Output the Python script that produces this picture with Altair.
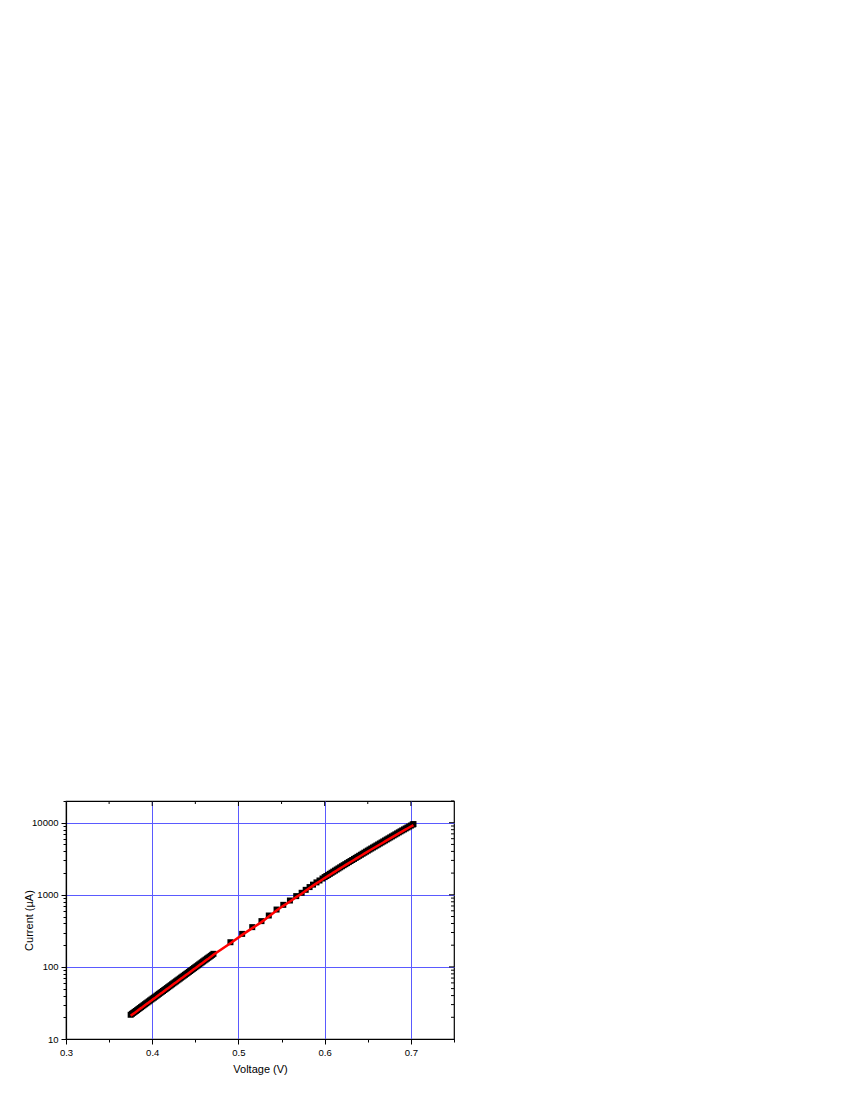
import altair as alt
import pandas as pd

# ---- data ----
# low-current segment (dense)
v_low = [0.3750, 0.3765, 0.3780, 0.3795, 0.3810, 0.3825, 0.3840, 0.3855, 0.3870, 0.3885,
         0.3900, 0.3915, 0.3930, 0.3945, 0.3960, 0.3975, 0.3990, 0.4005, 0.4020, 0.4035,
         0.4050, 0.4065, 0.4080, 0.4095, 0.4110, 0.4125, 0.4140, 0.4155, 0.4170, 0.4185,
         0.4200, 0.4215, 0.4230, 0.4245, 0.4260, 0.4275, 0.4290, 0.4305, 0.4320, 0.4335,
         0.4350, 0.4365, 0.4380, 0.4395, 0.4410, 0.4425, 0.4440, 0.4455, 0.4470, 0.4485,
         0.4500, 0.4515, 0.4530, 0.4545, 0.4560, 0.4575, 0.4590, 0.4605, 0.4620, 0.4635,
         0.4650, 0.4665, 0.4680, 0.4695, 0.4710]
i_low = [21.0, 21.65, 22.3, 23.0, 23.7, 24.4, 25.2, 26.0, 26.8, 27.6,
         28.5, 29.4, 30.3, 31.2, 32.2, 33.2, 34.2, 35.3, 36.3, 37.4,
         38.6, 39.8, 41.0, 42.3, 43.6, 44.9, 46.3, 47.7, 49.2, 50.7,
         52.3, 53.9, 55.6, 57.3, 59.1, 60.9, 62.8, 64.7, 66.7, 68.8,
         70.9, 73.1, 75.3, 77.6, 80.0, 82.5, 85.0, 87.6, 90.4, 93.2,
         96.0, 99.0, 102.0, 105.2, 108.5, 111.9, 115.3, 118.9, 122.5, 126.3,
         130.0, 134.0, 138.0, 142.3, 147.0]
# middle segment (sparse points)
v_mid = [0.4907, 0.5043, 0.5160, 0.5267, 0.5352, 0.5442, 0.5520, 0.5597,
         0.5670, 0.5733, 0.5780, 0.5825, 0.5865, 0.5905, 0.5940, 0.5975]
i_mid = [213, 278, 345, 418, 500, 605, 703, 807, 929, 1033, 1135, 1240,
         1340, 1440, 1530, 1630]
# high-current segment (dense)
v_high = [0.600, 0.602, 0.604, 0.606, 0.608, 0.610, 0.612, 0.614, 0.616, 0.618,
          0.620, 0.622, 0.624, 0.626, 0.628, 0.630, 0.632, 0.634, 0.636, 0.638,
          0.640, 0.642, 0.644, 0.646, 0.648, 0.650, 0.652, 0.654, 0.656, 0.658,
          0.660, 0.662, 0.664, 0.666, 0.668, 0.670, 0.672, 0.674, 0.676, 0.678,
          0.680, 0.682, 0.684, 0.686, 0.688, 0.690, 0.692, 0.694, 0.696, 0.698,
          0.700, 0.702, 0.703]
i_high = [1706, 1766, 1828, 1892, 1959, 2028, 2099, 2173, 2249, 2328,
          2410, 2492, 2576, 2663, 2754, 2847, 2944, 3044, 3148, 3255,
          3365, 3479, 3597, 3719, 3846, 3976, 4111, 4246, 4385, 4529,
          4677, 4830, 4989, 5152, 5321, 5495, 5675, 5861, 6053, 6252,
          6457, 6669, 6887, 7112, 7345, 7577, 7816, 8063, 8318, 8580,
          8851, 9130, 9268]

# axis tick values
x_ticks = [0.3, 0.35, 0.4, 0.45, 0.5, 0.55, 0.6, 0.65, 0.7, 0.75]
x_major_inner = [0.4, 0.5, 0.6, 0.7]
x_minor_inner = [0.35, 0.45, 0.55, 0.65]
y_ticks = [10, 20, 30, 40, 50, 60, 70, 80, 90,
           100, 200, 300, 400, 500, 600, 700, 800, 900,
           1000, 2000, 3000, 4000, 5000, 6000, 7000, 8000, 9000,
           10000, 20000]
y_major_inner = [100, 1000, 10000]
y_minor_inner = [20, 30, 40, 50, 60, 70, 80, 90,
                 200, 300, 400, 500, 600, 700, 800, 900,
                 2000, 3000, 4000, 5000, 6000, 7000, 8000, 9000, 20000]

V = v_low + v_mid + v_high
I = i_low + i_mid + i_high
df = pd.DataFrame({"V": V, "I": I, "k": list(range(len(V)))})

W, H = 388, 238
FONT = "Liberation Sans"

x_major_test = "abs(datum.value*10 - round(datum.value*10)) < 0.001"
y_major_test = "abs(log(datum.value)/LN10 - round(log(datum.value)/LN10)) < 0.001"

x_scale = alt.Scale(domain=[0.3, 0.75], nice=False, zero=False)
y_scale = alt.Scale(type="log", domain=[10, 20000], nice=False)

x_axis = alt.Axis(
    values=x_ticks,
    labelExpr=f"({x_major_test}) ? format(datum.value, '.1f') : ''",
    tickSize={"condition": {"test": x_major_test, "value": 5}, "value": 3},
    gridOpacity={"condition": {"test": x_major_test, "value": 1}, "value": 0},
    grid=True, gridColor="#5a5aff", gridWidth=1,
    domainColor="black", domainWidth=1.2, tickColor="black", tickWidth=1,
    labelFont=FONT, labelFontSize=9.5, labelColor="black", labelPadding=3,
    titleFont=FONT, titleFontSize=11, titleFontWeight="normal", titleColor="black",
    titleY=30, titleBaseline="middle", labelFlush=False,
)
y_axis = alt.Axis(
    values=y_ticks,
    labelExpr=f"({y_major_test}) ? format(datum.value, 'd') : ''",
    tickSize={"condition": {"test": y_major_test, "value": 5}, "value": 3},
    gridOpacity={"condition": {"test": y_major_test, "value": 1}, "value": 0},
    grid=True, gridColor="#5a5aff", gridWidth=1,
    domainColor="black", domainWidth=1.2, tickColor="black", tickWidth=1,
    labelFont=FONT, labelFontSize=9.5, labelColor="black", labelPadding=3,
    titleFont=FONT, titleFontSize=11, titleFontWeight="normal", titleColor="black",
    titleX=-37, titleY=H / 2, titleAngle=-90, titleAlign="center",
    titleBaseline="middle", labelFlush=False,
)

XT = "Voltage (V)"
YT = "Current (µA)"

def xenc(field):
    return alt.X(f"{field}:Q", scale=x_scale, axis=x_axis, title=XT)

def yenc(field):
    return alt.Y(f"{field}:Q", scale=y_scale, axis=y_axis, title=YT)

base = alt.Chart(df)
points = base.mark_square(size=36, color="black", opacity=1, yOffset=-1).encode(
    x=xenc("V"), y=yenc("I"),
)
line = base.mark_line(color="#ff0000", strokeWidth=2.5).encode(
    x=xenc("V"), y=yenc("I"), order="k:Q",
)

top_major = alt.Chart(pd.DataFrame({"V": x_major_inner})).mark_rule(color="black", strokeWidth=1).encode(
    x=xenc("V"), y=alt.value(0), y2=alt.value(5))
top_minor = alt.Chart(pd.DataFrame({"V": x_minor_inner})).mark_rule(color="black", strokeWidth=1).encode(
    x=xenc("V"), y=alt.value(0), y2=alt.value(3))
right_major = alt.Chart(pd.DataFrame({"I": y_major_inner})).mark_rule(color="black", strokeWidth=1).encode(
    y=yenc("I"), x=alt.value(W), x2=alt.value(W - 5))
right_minor = alt.Chart(pd.DataFrame({"I": y_minor_inner})).mark_rule(color="black", strokeWidth=1).encode(
    y=yenc("I"), x=alt.value(W), x2=alt.value(W - 3))

chart = alt.layer(points, line, top_major, top_minor, right_major, right_minor).properties(
    width=W, height=H,
    background="white",
    autosize=alt.AutoSizeParams(type="none"),
    padding={"left": 58, "top": 793, "right": 20, "bottom": 50},
).configure_view(stroke="black", strokeWidth=1.2)

chart.save("out.html", embed_options={"renderer": "svg", "actions": False})
